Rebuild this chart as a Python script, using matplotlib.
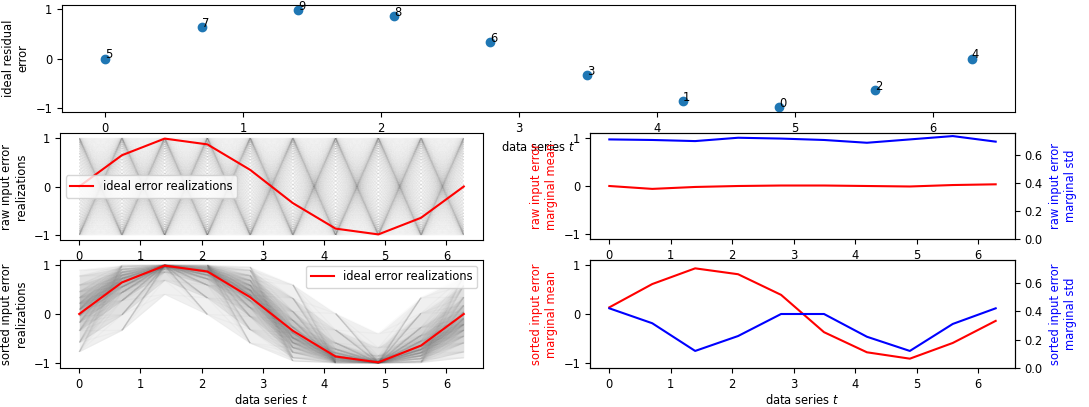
import matplotlib
matplotlib.use('Agg')
import matplotlib.pyplot as plt
from matplotlib.collections import LineCollection

plt.rcParams['font.size'] = 8.3

# data series positions and ideal residual error
t_vals = [0.0, 0.698, 1.396, 2.094, 2.793, 3.491, 4.189, 4.887, 5.585, 6.283]
ideal_error = [0.0, 0.643, 0.985, 0.866, 0.342, -0.342, -0.866, -0.985, -0.643, 0.0]
ranks = [5, 7, 9, 8, 6, 3, 1, 0, 2, 4]

# levels taken by the raw input realizations (same marginal at every t)
raw_pos = [0.039, 0.118, 0.195, 0.271, 0.346, 0.419, 0.489, 0.556, 0.619, 0.679,
           0.734, 0.785, 0.832, 0.873, 0.908, 0.937, 0.962, 0.981, 0.993, 0.999]
raw_levels = [-v for v in raw_pos[::-1]] + raw_pos

# levels taken by the sorted realizations, one row per rank (0 = lowest)
rank_levels = [
    [-1.000, -1.000, -0.999, -0.996, -0.991, -0.984, -0.971, -0.951, -0.919, -0.856, -0.687, -0.400],
    [-0.999, -0.993, -0.976, -0.956, -0.928, -0.894, -0.851, -0.792, -0.714, -0.588, -0.327, 0.010],
    [-0.990, -0.966, -0.910, -0.853, -0.792, -0.725, -0.645, -0.552, -0.437, -0.273, 0.016, 0.333],
    [-0.956, -0.891, -0.782, -0.685, -0.588, -0.490, -0.386, -0.267, -0.128, 0.050, 0.321, 0.595],
    [-0.891, -0.772, -0.588, -0.451, -0.330, -0.212, -0.091, 0.038, 0.175, 0.342, 0.580, 0.770],
    [-0.770, -0.580, -0.342, -0.175, -0.038, 0.091, 0.212, 0.330, 0.451, 0.588, 0.772, 0.891],
    [-0.595, -0.321, -0.050, 0.128, 0.267, 0.386, 0.490, 0.588, 0.685, 0.782, 0.891, 0.956],
    [-0.333, -0.016, 0.273, 0.437, 0.552, 0.645, 0.725, 0.792, 0.853, 0.910, 0.966, 0.990],
    [-0.010, 0.327, 0.588, 0.714, 0.792, 0.851, 0.894, 0.928, 0.956, 0.976, 0.993, 0.999],
    [0.400, 0.687, 0.856, 0.919, 0.951, 0.971, 0.984, 0.991, 0.996, 0.999, 1.000, 1.000],
]

# marginal statistics
raw_mean = [0.0, -0.06, -0.02, 0.0, 0.01, 0.01, 0.0, -0.01, 0.02, 0.035]
raw_std = [0.714, 0.71, 0.702, 0.726, 0.72, 0.71, 0.69, 0.714, 0.738, 0.698]
sorted_mean = [0.135, 0.61, 0.93, 0.81, 0.39, -0.37, -0.78, -0.91, -0.59, -0.14]
sorted_std = [0.42, 0.315, 0.12, 0.225, 0.38, 0.38, 0.22, 0.12, 0.31, 0.42]


def cloud_segments(levels_per_t, ordered=None):
    segs = []
    for i in range(len(t_vals) - 1):
        for a in levels_per_t[i]:
            for b in levels_per_t[i + 1]:
                if ordered is not None:
                    up = ordered[i + 1] > ordered[i]
                    if (up and b < a) or (not up and b > a):
                        continue
                segs.append([(t_vals[i], a), (t_vals[i + 1], b)])
    return segs


W, H = 1089, 407
fig = plt.figure(figsize=(W / 100, H / 100), dpi=100)


def px_axes(x0, y0, x1, y1):
    return fig.add_axes([x0 / W, 1 - y1 / H, (x1 - x0) / W, (y1 - y0) / H])


# top: ideal residual error with rank labels
ax0 = px_axes(62, 5, 1015, 112)
ax0.scatter(t_vals, ideal_error)
for t, e, r in zip(t_vals, ideal_error, ranks):
    ax0.annotate(str(r), (t, e))
ax0.set_xlabel('data series $t$')
ax0.set_ylabel('ideal residual\nerror')

# middle left: raw realizations
ax1 = px_axes(60, 133, 483, 240)
lc = LineCollection(cloud_segments([raw_levels] * len(t_vals)), colors='k', linewidths=1.0, alpha=0.005)
ax1.add_collection(lc)
ax1.plot(t_vals, ideal_error, color='red', label='ideal error realizations')
ax1.set_ylabel('raw input error\nrealizations')
ax1.legend(loc='center left')

# middle right: raw marginal stats
ax2 = px_axes(590, 133, 1015, 239)
ax2.plot(t_vals, raw_mean, color='red')
ax2.set_ylim(-1.1, 1.1)
ax2.set_yticks([-1, 0, 1])
ax2.set_ylabel('raw input error\nmarginal mean', color='red')
ax2b = ax2.twinx()
ax2b.plot(t_vals, raw_std, color='blue')
ax2b.set_ylim(0, 0.76)
ax2b.set_yticks([0.0, 0.2, 0.4, 0.6])
ax2b.set_ylabel('raw input error\nmarginal std', color='blue')

# bottom left: sorted realizations
ax3 = px_axes(60, 260, 483, 368)
sorted_levels = [rank_levels[r] for r in ranks]
n_lev = len(rank_levels[0])
for k in range(n_lev // 2):
    lo = [lev[k] for lev in sorted_levels]
    hi = [lev[n_lev - 1 - k] for lev in sorted_levels]
    ax3.fill_between(t_vals, lo, hi, color='k', alpha=0.06, linewidth=0)
lc2 = LineCollection(cloud_segments(sorted_levels, ranks), colors='k', linewidths=1.0, alpha=0.02)
ax3.add_collection(lc2)
ax3.plot(t_vals, ideal_error, color='red', label='ideal error realizations')
ax3.set_ylabel('sorted input error\nrealizations')
ax3.set_xlabel('data series $t$', labelpad=2)
ax3.legend(loc='upper right')

# bottom right: sorted marginal stats
ax4 = px_axes(590, 260, 1015, 368)
ax4.plot(t_vals, sorted_mean, color='red')
ax4.set_ylim(-1.1, 1.1)
ax4.set_yticks([-1, 0, 1])
ax4.set_ylabel('sorted input error\nmarginal mean', color='red')
ax4.set_xlabel('data series $t$', labelpad=2)
ax4b = ax4.twinx()
ax4b.plot(t_vals, sorted_std, color='blue')
ax4b.set_ylim(0, 0.76)
ax4b.set_yticks([0.0, 0.2, 0.4, 0.6])
ax4b.set_ylabel('sorted input error\nmarginal std', color='blue')

for ax in (ax1, ax3):
    ax.set_ylim(-1.1, 1.1)
    ax.set_xlim(-0.314, 6.597)
    ax.set_yticks([-1, 0, 1])

fig.savefig('out.png', dpi=100)
